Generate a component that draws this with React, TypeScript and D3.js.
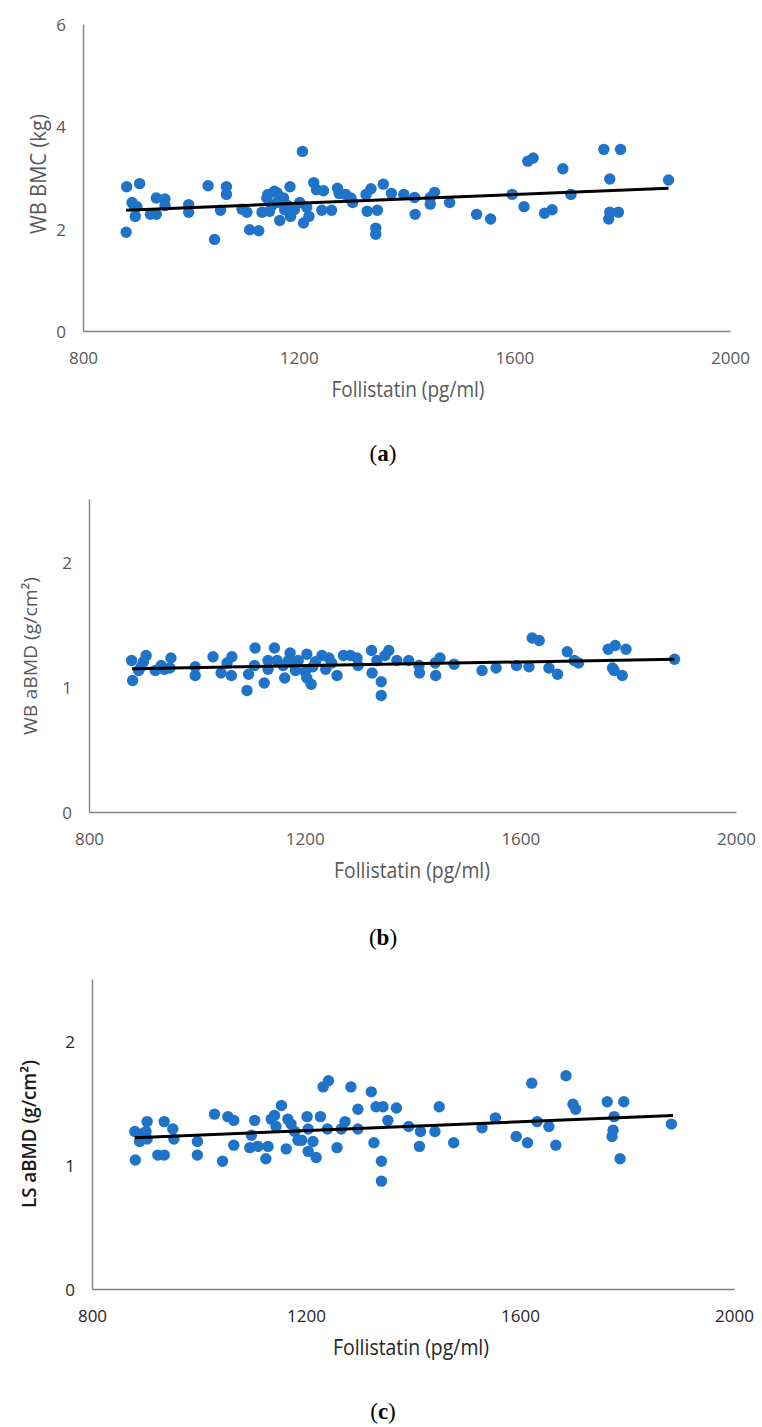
import React, { useEffect, useRef } from 'react';
import * as d3 from 'd3';

type Pt = [number, number];

// follistatin (pg/ml) vs bone outcome
const xTicks = [800, 1200, 1600, 2000];
const bmcTicks = [0, 2, 4, 6];
const bmdTicks = [0, 1, 2];

const wbBmc: Pt[] = [
  [881, 2.82], [905, 2.88], [880, 1.93], [891, 2.51], [900, 2.43], [897, 2.24], [895, 2.45],
  [925, 2.28], [936, 2.28], [936, 2.60], [952, 2.58], [952, 2.45], [996, 2.47], [996, 2.32],
  [1032, 2.84], [1044, 1.79], [1055, 2.36], [1066, 2.82], [1066, 2.67], [1095, 2.38], [1104, 2.32],
  [1109, 1.98], [1126, 1.96], [1132, 2.32], [1143, 2.67], [1146, 2.34], [1155, 2.73], [1160, 2.51],
  [1165, 2.16], [1172, 2.60], [1174, 2.37], [1184, 2.82], [1185, 2.24], [1192, 2.37], [1202, 2.51],
  [1207, 3.51], [1209, 2.11], [1219, 2.24], [1228, 2.90], [1233, 2.76], [1243, 2.36], [1246, 2.74],
  [1261, 2.36], [1272, 2.79], [1275, 2.69], [1287, 2.67], [1300, 2.51], [1297, 2.60], [1325, 2.67],
  [1327, 2.34], [1334, 2.78], [1343, 2.01], [1343, 1.89], [1346, 2.36], [1357, 2.87], [1372, 2.69],
  [1395, 2.67], [1415, 2.61], [1416, 2.28], [1444, 2.61], [1444, 2.48], [1452, 2.71], [1480, 2.51],
  [1530, 2.28], [1556, 2.19], [1596, 2.67], [1618, 2.43], [1625, 3.32], [1635, 3.38], [1656, 2.30],
  [1670, 2.37], [1690, 3.17], [1705, 2.67], [1766, 3.55], [1777, 2.97], [1775, 2.19], [1777, 2.32],
  [1793, 2.32], [1797, 3.55], [1886, 2.95],
  [1141, 2.60], [1150, 2.45], [1180, 2.45], [1215, 2.42], [1160, 2.70],
];

const wbBmd: Pt[] = [
  [879, 1.21], [881, 1.05], [892, 1.13], [901, 1.20], [906, 1.25], [897, 1.16], [923, 1.13],
  [934, 1.17], [940, 1.14], [952, 1.23], [950, 1.15], [997, 1.16], [997, 1.09], [1030, 1.24],
  [1045, 1.11], [1056, 1.19], [1065, 1.24], [1064, 1.09], [1093, 0.97], [1096, 1.10], [1107, 1.17],
  [1108, 1.31], [1125, 1.03], [1132, 1.21], [1132, 1.14], [1144, 1.31], [1149, 1.21], [1163, 1.07],
  [1170, 1.21], [1173, 1.27], [1183, 1.13], [1188, 1.21], [1201, 1.12], [1204, 1.26], [1204, 1.07],
  [1212, 1.02], [1220, 1.20], [1232, 1.25], [1239, 1.14], [1245, 1.23], [1260, 1.09], [1272, 1.25],
  [1285, 1.25], [1297, 1.23], [1299, 1.17], [1324, 1.29], [1325, 1.11], [1334, 1.21], [1342, 1.04],
  [1342, 0.93], [1349, 1.25], [1356, 1.29], [1371, 1.21], [1393, 1.21], [1412, 1.17], [1413, 1.11],
  [1442, 1.19], [1443, 1.09], [1451, 1.23], [1477, 1.18], [1529, 1.13], [1555, 1.15], [1593, 1.17],
  [1616, 1.16], [1622, 1.39], [1635, 1.37], [1653, 1.15], [1669, 1.10], [1687, 1.28], [1700, 1.21],
  [1708, 1.19], [1763, 1.30], [1776, 1.33], [1771, 1.15], [1774, 1.13], [1789, 1.09], [1796, 1.30],
  [1886, 1.22],
  [1160, 1.17], [1178, 1.19], [1215, 1.16], [1250, 1.19],
];

const lsBmd: Pt[] = [
  [880, 1.27], [881, 1.04], [889, 1.19], [892, 1.25], [901, 1.27], [903, 1.35], [903, 1.21],
  [923, 1.08], [935, 1.08], [935, 1.35], [951, 1.29], [953, 1.21], [997, 1.19], [997, 1.08],
  [1029, 1.41], [1044, 1.03], [1054, 1.39], [1065, 1.36], [1065, 1.16], [1095, 1.14], [1098, 1.24],
  [1104, 1.36], [1110, 1.15], [1125, 1.05], [1129, 1.15], [1135, 1.37], [1141, 1.40], [1144, 1.31],
  [1154, 1.48], [1163, 1.13], [1166, 1.37], [1172, 1.33], [1179, 1.27], [1185, 1.20], [1192, 1.20],
  [1202, 1.39], [1204, 1.11], [1204, 1.29], [1213, 1.19], [1219, 1.06], [1227, 1.39], [1232, 1.63],
  [1242, 1.68], [1240, 1.29], [1258, 1.14], [1266, 1.29], [1273, 1.35], [1284, 1.63], [1297, 1.45],
  [1297, 1.29], [1322, 1.59], [1327, 1.18], [1331, 1.47], [1344, 1.47], [1341, 1.03], [1341, 0.87],
  [1353, 1.36], [1369, 1.46], [1392, 1.31], [1414, 1.27], [1412, 1.15], [1441, 1.27], [1449, 1.47],
  [1476, 1.18], [1529, 1.30], [1554, 1.38], [1593, 1.23], [1614, 1.18], [1622, 1.66], [1632, 1.35],
  [1654, 1.31], [1667, 1.16], [1686, 1.72], [1699, 1.49], [1704, 1.45], [1763, 1.51], [1776, 1.39],
  [1774, 1.28], [1772, 1.23], [1787, 1.05], [1794, 1.51], [1883, 1.33],
];

// fitted lines (end points)
const wbBmcTrend: Pt[] = [[880, 2.36], [1886, 2.79]];
const wbBmdTrend: Pt[] = [[880, 1.145], [1886, 1.22]];
const lsBmdTrend: Pt[] = [[880, 1.22], [1886, 1.40]];

const xLabel = 'Follistatin (pg/ml)';

const panels = [
  {
    id: 'a', points: wbBmc, trend: wbBmcTrend, yMax: 6, yTicks: bmcTicks, yLabel: 'WB BMC (kg)',
    left: 83, right: 730, top: 24, bottom: 331, yTickX: 61, xTickY: 357,
    xLabelX: 408, xLabelY: 389, xLabelW: 153, yLabelX: 46, yLabelY: 174, yLabelW: 120, yLabelSize: 22,
    captionY: 453, text: '#595959', bold: false,
  },
  {
    id: 'b', points: wbBmd, trend: wbBmdTrend, yMax: 2.5, yTicks: bmdTicks, yLabel: 'WB aBMD (g/cm²)',
    left: 89, right: 736, top: 499, bottom: 812, yTickX: 67, xTickY: 838,
    xLabelX: 412, xLabelY: 870, xLabelW: 156, yLabelX: 37, yLabelY: 656, yLabelW: 158, yLabelSize: 19,
    captionY: 937, text: '#595959', bold: false,
  },
  {
    id: 'c', points: lsBmd, trend: lsBmdTrend, yMax: 2.5, yTicks: bmdTicks, yLabel: 'LS aBMD (g/cm²)',
    left: 92, right: 734, top: 979, bottom: 1289, yTickX: 70, xTickY: 1315,
    xLabelX: 411, xLabelY: 1347, xLabelW: 156, yLabelX: 36, yLabelY: 1134, yLabelW: 148, yLabelSize: 19,
    captionY: 1411, text: '#262626', bold: true,
  },
];

const App: React.FC = () => {
  const svgRef = useRef<SVGSVGElement>(null);

  useEffect(() => {
    const svg = d3.select(svgRef.current);
    svg.selectAll('*').remove();

    panels.forEach(p => {
      const g = svg.append('g');
      const x = d3.scaleLinear().domain([800, 2000]).range([p.left, p.right]);
      const y = d3.scaleLinear().domain([0, p.yMax]).range([p.bottom, p.top]);

      // X axis
      const xa = g.append('g')
        .attr('transform', `translate(0,${p.bottom})`)
        .call(d3.axisBottom(x).tickValues(xTicks).tickSize(0).tickSizeOuter(0).tickFormat(d3.format('d')));
      xa.selectAll('text')
        .attr('y', p.xTickY - p.bottom)
        .attr('dy', null)
        .attr('dominant-baseline', 'central');

      // Y axis
      const ya = g.append('g')
        .attr('transform', `translate(${p.left},0)`)
        .call(d3.axisLeft(y).tickValues(p.yTicks).tickSize(0).tickSizeOuter(0).tickFormat(d3.format('d')));
      ya.selectAll('text')
        .attr('x', p.yTickX - p.left)
        .attr('dy', null)
        .attr('text-anchor', 'middle')
        .attr('dominant-baseline', 'central');

      g.selectAll('.domain')
        .attr('stroke', '#7f7f7f')
        .attr('stroke-width', 1.4);
      g.selectAll('.tick text')
        .attr('fill', p.text)
        .attr('font-family', '"Open Sans", sans-serif')
        .attr('font-size', 17);

      // Dots
      g.selectAll('.dot')
        .data(p.points)
        .enter().append('circle')
        .attr('class', 'dot')
        .attr('cx', d => x(d[0]))
        .attr('cy', d => y(d[1]))
        .attr('r', 5.7)
        .attr('fill', '#1F73C8');

      // Trend line
      g.append('path')
        .datum(p.trend)
        .attr('d', d3.line<Pt>().x(d => x(d[0])).y(d => y(d[1])))
        .attr('fill', 'none')
        .attr('stroke', '#000')
        .attr('stroke-width', 3);

      // X label
      g.append('text')
        .attr('x', p.xLabelX)
        .attr('y', p.xLabelY)
        .attr('text-anchor', 'middle')
        .attr('dominant-baseline', 'central')
        .attr('font-family', '"Open Sans", sans-serif')
        .attr('font-size', 21)
        .attr('textLength', p.xLabelW)
        .attr('lengthAdjust', 'spacingAndGlyphs')
        .attr('fill', p.text)
        .text(xLabel);

      // Y label
      g.append('text')
        .attr('transform', `translate(${p.yLabelX},${p.yLabelY}) rotate(-90)`)
        .attr('text-anchor', 'middle')
        .attr('font-family', '"Open Sans", sans-serif')
        .attr('font-size', p.yLabelSize)
        .attr('font-weight', p.bold ? 600 : 400)
        .attr('textLength', p.yLabelW)
        .attr('lengthAdjust', 'spacingAndGlyphs')
        .attr('fill', p.bold ? '#1a1a1a' : p.text)
        .text(p.yLabel);

      // Caption
      const cap = g.append('text')
        .attr('x', 383)
        .attr('y', p.captionY)
        .attr('text-anchor', 'middle')
        .attr('dominant-baseline', 'central')
        .attr('font-family', '"Liberation Serif", "Times New Roman", serif')
        .attr('font-size', 23)
        .attr('fill', '#000');
      cap.append('tspan').text('(');
      cap.append('tspan').attr('font-weight', 'bold').text(p.id);
      cap.append('tspan').text(')');
    });
  }, []);

  return (
    <div style={{ position: 'absolute', left: 0, top: 0, width: 762, height: 1427, background: '#fff' }}>
      <svg ref={svgRef} width={762} height={1427}></svg>
    </div>
  );
};

export default App;
